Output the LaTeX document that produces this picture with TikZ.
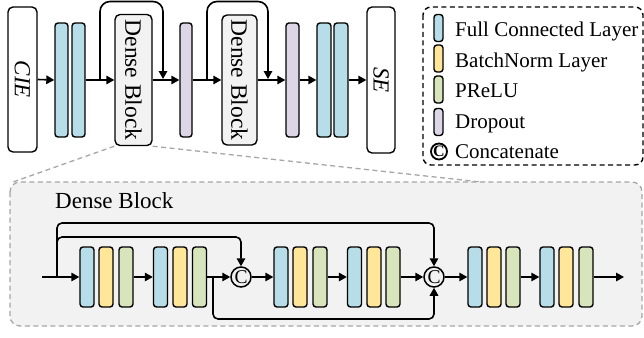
\documentclass[tikz,border=0pt]{standalone}
\usepackage{fontspec}
\setmainfont{Liberation Serif}
\usetikzlibrary{arrows.meta}
\definecolor{fcc}{HTML}{B7DDE8}
\definecolor{bnc}{HTML}{FFE699}
\definecolor{prc}{HTML}{D8E4BC}
\definecolor{doc}{HTML}{DCD6E6}
\definecolor{panelc}{HTML}{F2F2F2}
\definecolor{dashg}{HTML}{A6A6A6}
\begin{document}
\begin{tikzpicture}[x=1pt,y=-1pt,
  bar/.style={draw, line width=1.4pt, rounded corners=3pt, inner sep=0pt, minimum width=14pt, minimum height=60pt},
  fc/.style={bar, fill=fcc}, bn/.style={bar, fill=bnc}, pr/.style={bar, fill=prc}, dr/.style={bar, fill=doc},
  tallbar/.style={minimum width=13pt, minimum height=114pt},
  iobox/.style={draw, line width=1.4pt, rounded corners=5pt, inner sep=0pt, fill=white,
     font=\fontsize{23}{23}\selectfont\itshape},
  dbox/.style={draw, line width=1.4pt, rounded corners=5pt, inner sep=0pt, fill=panelc,
     font=\fontsize{23.5}{23.5}\selectfont},
  cat/.style={draw, circle, line width=1.5pt, inner sep=0pt, minimum size=20pt, font=\fontsize{19.5}{19.5}\selectfont},
  conn/.style={line width=1.6pt, -{Triangle[length=8pt,width=8.5pt]}},
  legtxt/.style={anchor=base west, inner sep=0pt, font=\fontsize{21}{21}\selectfont},
  legicon/.style={draw, line width=1.4pt, rounded corners=3pt, inner sep=0pt, minimum width=9pt, minimum height=27pt}
]
\useasboundingbox (0,0) rectangle (644,337);

% ---------- top row ----------
\node[iobox, minimum height=145pt, minimum width=29pt] (cie) at (22.5,79.5) {\rotatebox{-90}{CIE}};
\node[fc, tallbar] (tfc1) at (61.5,80) {};
\node[fc, tallbar] (tfc2) at (78.5,80) {};
\node[dbox, minimum height=131pt, minimum width=37pt] (db1) at (133.5,80) {\rotatebox{-90}{Dense Block}};
\node[dr, tallbar, minimum width=12pt] (tdo1) at (186,80) {};
\node[dbox, minimum height=130pt, minimum width=35pt] (db2) at (239.5,80) {\rotatebox{-90}{Dense Block}};
\node[dr, tallbar] (tdo2) at (292.5,80) {};
\node[fc, tallbar, minimum width=14pt] (tfc3) at (324,80) {};
\node[fc, tallbar, minimum width=14pt] (tfc4) at (341,80) {};
\node[iobox, minimum height=146pt, minimum width=28pt] (se) at (381,80) {\rotatebox{-90}{SE}};

\coordinate (ts1) at (100,80);
\coordinate (te1) at (163,79);
\coordinate (ts2) at (207,80);
\coordinate (te2) at (268,79);

\draw[conn] (cie.east) -- (tfc1.west);
\draw[conn] (tfc2.east) -- (db1.west);
\draw[conn] (db1.east) -- (tdo1.west);
\draw[conn] (tdo1.east) -- (db2.west);
\draw[conn] (db2.east) -- (tdo2.west);
\draw[conn] (tdo2.east) -- (tfc3.west);
\draw[conn] (tfc4.east) -- (se.west);
\draw[conn, rounded corners=10pt] (ts1) -- (100,1.5) -| (te1);
\draw[conn, rounded corners=10pt] (ts2) -- (207,1.5) -| (te2);

% ---------- legend ----------
\draw[line width=1.4pt, dash pattern=on 5pt off 3.5pt, rounded corners=8pt] (423,7) rectangle (643,165);
\node[legicon, fill=fcc] (lfc) at (438.5,28) {};
\node[legicon, fill=bnc] (lbn) at (438.5,58.5) {};
\node[legicon, fill=prc] (lpr) at (438.5,89.5) {};
\node[legicon, fill=doc] (ldo) at (438.5,122) {};
\node[draw, circle, line width=1.8pt, inner sep=0pt, minimum size=16pt, font=\fontsize{16}{16}\selectfont\bfseries] (lcat) at (439,151.5) {C};
\node[legtxt] (tfcl) at (455,37) {Full Connected Layer};
\node[legtxt] (tbnl) at (455,67) {BatchNorm Layer};
\node[legtxt] (tprl) at (455,97.5) {PReLU};
\node[legtxt] (tdol) at (455,128) {Dropout};
\node[legtxt] (tcal) at (455,158) {Concatenate};

% ---------- zoom lines ----------
\coordinate (zl) at (13,182);
\coordinate (zr) at (490,183);
\draw[dashg, line width=1.3pt, dash pattern=on 5pt off 3.5pt] (db1.south west) -- (zl);
\draw[dashg, line width=1.3pt, dash pattern=on 5pt off 3.5pt] (db1.south east) -- (zr);

% ---------- dense block panel ----------
\draw[dashg, fill=panelc, line width=1.3pt, dash pattern=on 5pt off 3.5pt, rounded corners=10pt] (10,182) rectangle (642,326);
\node[anchor=base west, inner sep=0pt, font=\fontsize{23}{23}\selectfont] (dbl) at (55,208) {Dense Block};

\node[fc] (a1) at (87,277) {};
\node[bn] (a2) at (106,277) {};
\node[pr] (a3) at (126,277) {};
\node[fc] (b1) at (160.5,277) {};
\node[bn] (b2) at (180,277) {};
\node[pr] (b3) at (199.5,277) {};
\node[cat] (c1) at (241,277) {C};
\node[fc] (d1) at (281,277) {};
\node[bn] (d2) at (300,277) {};
\node[pr] (d3) at (320,277) {};
\node[fc] (e1) at (354.5,277) {};
\node[bn] (e2) at (374,277) {};
\node[pr] (e3) at (393,277) {};
\node[cat] (c2) at (434,277) {C};
\node[fc] (f1) at (475,277) {};
\node[bn] (f2) at (494,277) {};
\node[pr] (f3) at (513,277) {};
\node[fc] (g1) at (547,277) {};
\node[bn] (g2) at (566,277) {};
\node[pr] (g3) at (586,277) {};

\coordinate (in) at (42,277);
\coordinate (j1) at (57,277);
\coordinate (j2) at (213,277);
\coordinate (out) at (624,277);

\draw[conn] (in) -- (a1.west);
\draw[conn] (a3.east) -- (b1.west);
\draw[conn] (b3.east) -- (c1.west);
\draw[conn] (c1.east) -- (d1.west);
\draw[conn] (d3.east) -- (e1.west);
\draw[conn] (e3.east) -- (c2.west);
\draw[conn] (c2.east) -- (f1.west);
\draw[conn] (f3.east) -- (g1.west);
\draw[conn] (g3.east) -- (out);

\draw[conn, rounded corners=5pt] (j1) -- (57,223) -| (c2.north);
\draw[conn, rounded corners=5pt] (j1) -- (57,237) -| (c1.north);
\draw[conn, rounded corners=5pt] (j2) -- (213,319) -| (c2.south);
\end{tikzpicture}
\end{document}
